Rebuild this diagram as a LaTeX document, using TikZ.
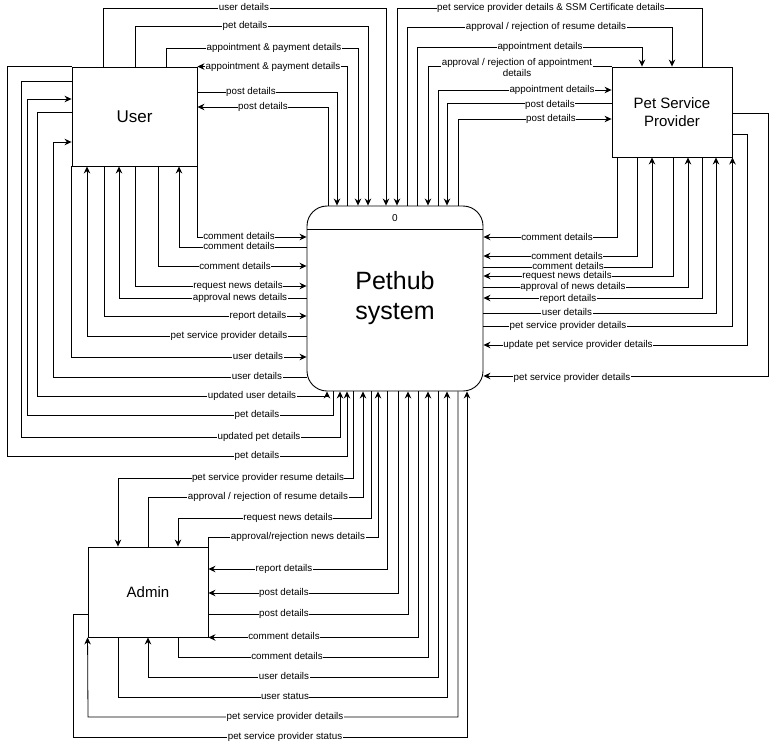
\documentclass[tikz,border=0pt]{standalone}
\usepackage{fontspec}
\setmainfont{Liberation Sans}
\usetikzlibrary{arrows.meta,positioning}
\tikzset{
>={Stealth[length=7pt,width=6.5pt]},
  entity/.style={
    rectangle,
    draw=black, line width=0.9pt,
    minimum width=125pt,
    minimum height=99pt,
    align=center,
    font=\fontsize{15}{18}\selectfont},
  hubbox/.style={
    rectangle,
    rounded corners=20pt,
    draw=black, line width=0.9pt,
    minimum width=176pt,
    minimum height=185pt,
    align=center,
    font=\fontsize{25}{30}\selectfont},
  flow/.style={draw, line width=0.8pt},
  flowtxt/.style={fill=white, inner xsep=0.5pt, inner ysep=0pt, text height=6.6pt, text depth=1.6pt,
    font=\fontsize{9.8}{11}\selectfont},
}

\begin{document}
\begin{tikzpicture}[x=1pt, y=-1pt]
    \useasboundingbox (0,0) rectangle (776,747);

    \node[entity, font=\fontsize{17}{20}\selectfont] (user) at (134.5,116.5) {User};
    \node[entity, minimum width=120pt, minimum height=90pt] (psp) at (672,112) {Pet Service\\Provider};
    \node[entity, minimum width=120pt, minimum height=90pt] (admin) at (148,592) {Admin};
    \node[hubbox] (hub) at (395,298.5) {Pethub\\system};
    \draw[line width=0.9pt] (hub.west |- 0,229) -- (hub.east |- 0,229);
    \node[font=\fontsize{10}{12}\selectfont] (num) at (395,218) {0};

    % User <-> Pethub, over the top
    \draw[flow,->] (user.north -| 103,0) |- (386,8) -- (hub.north -| 386,0) node[flowtxt] at (244,8) {user details};
    \draw[flow,->] (user.north -| 135,0) |- (368,26) -- (hub.north -| 368,0) node[flowtxt] at (245,26) {pet details};
    \draw[flow,->] (user.north -| 166,0) |- (358,48) -- (hub.north -| 358,0) node[flowtxt] at (274,48) {appointment \& payment details};
    \draw[flow,->] (hub.north -| 347,0) |- (user.north east) node[flowtxt] at (273,67) {appointment \& payment details};
    \draw[flow,->] (user.east |- 0,92) -| (hub.north -| 337,0) node[flowtxt] at (251,92) {post details};
    \draw[flow,->] (hub.north -| 328,0) |- (user.east |- 0,107) node[flowtxt] at (263,107) {post details};

    % Pet Service Provider <-> Pethub, over the top
    \draw[flow,->] (psp.north -| 702,0) |- (397,8) -- (hub.north -| 397,0) node[flowtxt] at (551,8) {pet service provider details \& SSM Certificate details};
    \draw[flow,->] (hub.north -| 407,0) |- (672,27) -- (psp.north -| 672,0) node[flowtxt] at (546,27) {approval / rejection of resume details};
    \draw[flow,->] (hub.north -| 417,0) |- (642,47) -- (psp.north -| 642,0) node[flowtxt] at (540,47) {appointment details};
    \draw[flow,->] (psp.north west) -| (hub.north -| 428,0) node[flowtxt, align=center, text height=, text depth=, inner ysep=0.5pt] at (517,67.5) {approval / rejection of appointment\\details};
    \draw[flow,->] (hub.north -| 438,0) |- (psp.west |- 0,90) node[flowtxt] at (552,90) {appointment details};
    \draw[flow,->] (psp.west |- 0,103) -| (hub.north -| 447,0) node[flowtxt] at (550,105) {post details};
    \draw[flow,->] (hub.north -| 458,0) |- (psp.west |- 0,119) node[flowtxt] at (551,119) {post details};

    % User <-> Pethub, left side
    \draw[flow,->] (user.south east) |- (hub.west |- 0,237) node[flowtxt] at (239,237) {comment details};
    \draw[flow,->] (hub.west |- 0,247) -| (user.south -| 179,0) node[flowtxt] at (239,247) {comment details};
    \draw[flow,->] (user.south -| 158,0) |- (hub.west |- 0,266) node[flowtxt] at (235,267) {comment details};
    \draw[flow,->] (user.south -| 135,0) |- (hub.west |- 0,286) node[flowtxt] at (238,286) {request news details};
    \draw[flow,->] (hub.west |- 0,298) -| (user.south -| 119,0) node[flowtxt] at (240,298) {approval news details};
    \draw[flow,->] (user.south -| 104,0) |- (hub.west |- 0,316) node[flowtxt] at (258,316) {report details};
    \draw[flow,->] (hub.west |- 0,336) -| (user.south -| 87,0) node[flowtxt] at (229,336) {pet service provider details};
    \draw[flow,->] (user.south west) |- (hub.west |- 0,357) node[flowtxt] at (258,357) {user details};
    \draw[flow,->] (hub.west |- 0,377) -| (53,142) -- (user.west |- 0,142) node[flowtxt] at (257,377) {user details};
    \draw[flow,->] (user.west |- 0,112) -| (37,396) -| (hub.south -| 327,0) node[flowtxt] at (252,396) {updated user details};
    \draw[flow,->] (hub.south -| 333,0) |- (27,415) |- (user.west |- 0,99) node[flowtxt] at (257,415) {pet details};
    \draw[flow,->] (user.west |- 0,81) -| (21,437) -| (hub.south -| 340,0) node[flowtxt] at (259,437) {updated pet details};
    \draw[flow,->] (user.north west) -| (7,456) -| (hub.south -| 347,0) node[flowtxt] at (257,456) {pet details};

    % Admin <-> Pethub, below
    \draw[flow,->] (hub.south -| 353,0) |- (118,478) -- (admin.north -| 118,0) node[flowtxt] at (268,478) {pet service provider resume details};
    \draw[flow,->] (admin.north -| 148,0) |- (363,497) -- (hub.south -| 363,0) node[flowtxt] at (268,497) {approval / rejection of resume details};
    \draw[flow,->] (hub.south -| 371,0) |- (178,518) -- (admin.north -| 178,0) node[flowtxt] at (288,518) {request news details};
    \draw[flow,->] (admin.north east) |- (378,537) -- (hub.south -| 378,0) node[flowtxt] at (298,537) {approval/rejection news details};
    \draw[flow,->] (hub.south -| 387,0) |- (admin.east |- 0,569) node[flowtxt] at (284,569) {report details};
    \draw[flow,->] (hub.south -| 398,0) |- (admin.east |- 0,593) node[flowtxt] at (284,593) {post details};
    \draw[flow,->] (admin.east |- 0,614) -| (hub.south -| 408,0) node[flowtxt] at (284,614) {post details};
    \draw[flow,->] (hub.south -| 418,0) |- (admin.south east) node[flowtxt] at (284,637) {comment details};
    \draw[flow,->] (admin.south -| 178,0) |- (428,657) -- (hub.south -| 428,0) node[flowtxt] at (287,657) {comment details};
    \draw[flow,->] (hub.south -| 438,0) |- (148,677) -- (admin.south -| 148,0) node[flowtxt] at (284,677) {user details};
    \draw[flow,->] (admin.south -| 118,0) |- (447,697) -- (hub.south -| 447,0) node[flowtxt] at (285,697) {user status};
    \draw[flow,->] (hub.south -| 458,0) |- (88,717) -- (admin.south west) node[flowtxt] at (285,717) {pet service provider details};
    \draw[flow,->] (admin.west |- 0,614) -| (73,737) -| (hub.south -| 467,0) node[flowtxt] at (285,737) {pet service provider status};

    % Pet Service Provider <-> Pethub, right side
    \draw[flow,->] (psp.south -| 617,0) |- (hub.east |- 0,237) node[flowtxt] at (557,238) {comment details};
    \draw[flow,->] (psp.south -| 637,0) |- (hub.east |- 0,256) node[flowtxt] at (567,257) {comment details};
    \draw[flow,->] (hub.east |- 0,267) -| (psp.south -| 652,0) node[flowtxt] at (568,266.5) {comment details};
    \draw[flow,->] (psp.south -| 673,0) |- (hub.east |- 0,276) node[flowtxt] at (567,276) {request news details};
    \draw[flow,->] (hub.east |- 0,287) -| (psp.south -| 688,0) node[flowtxt] at (573,287) {approval of news details};
    \draw[flow,->] (psp.south -| 702,0) |- (hub.east |- 0,298) node[flowtxt] at (568,299) {report details};
    \draw[flow,->] (hub.east |- 0,313) -| (psp.south -| 716,0) node[flowtxt] at (567,313) {user details};
    \draw[flow,->] (hub.east |- 0,326) -| (psp.south east) node[flowtxt] at (568,326) {pet service provider details};
    \draw[flow,->] (psp.east |- 0,134) -| (747,345) -- (hub.east |- 0,345) node[flowtxt] at (578,345) {update pet service provider details};
    \draw[flow,->] (psp.east |- 0,113) -| (768,376) -- (hub.east |- 0,376) node[flowtxt] at (572,378) {pet service provider details};
\end{tikzpicture}
\end{document}
